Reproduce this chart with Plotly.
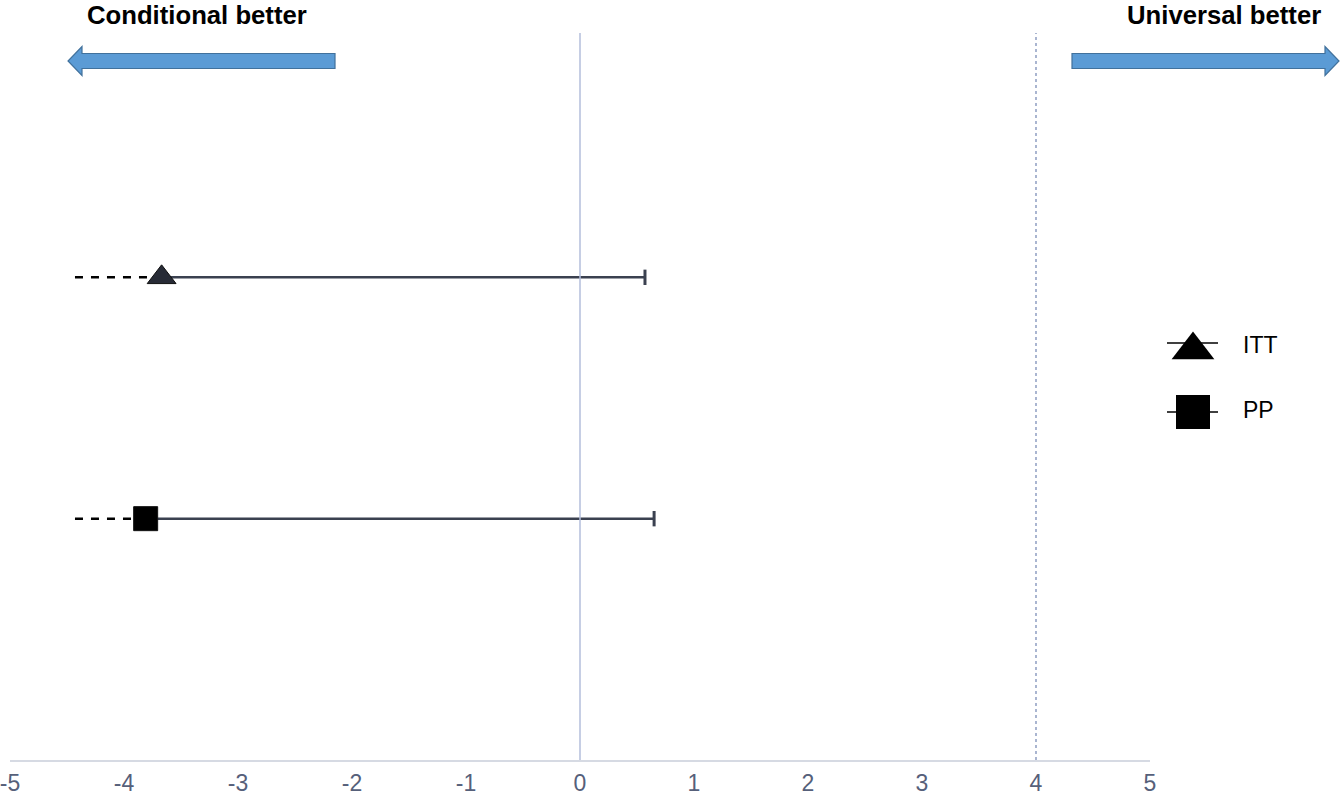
import plotly.graph_objects as go

# =============================================================================
# DATA
# =============================================================================

groups = ['ITT', 'PP']
estimates = [-3.67, -3.81]
upper_ci = [0.57, 0.65]
lower_ci = [-4.43, -4.43]      # dashed part, runs off to the left
y_pos = [2, 1]
markers = ['triangle-up', 'square']
marker_sizes = [25, 24]
legend_sizes = [37, 34]
marker_colors = ['#272b36', '#000000']

x_ticks = [-5, -4, -3, -2, -1, 0, 1, 2, 3, 4, 5]
x_ticktext = ['-5', '-4', '-3', '-2', '-1', '0', '1', '2', '3', '4', '5']
ref_lines = [0, 4]

# =============================================================================
# LAYOUT HELPERS (window pixels -> paper coords)
# =============================================================================

W, H = 1341, 800
L, R, T, B = 10, 1150, 36, 760        # plot area in window pixels
PW = W - L                             # plotting region width (margin r = 0)
PH = B - T


def px_x(p):
    return (p - L) / PW


def px_y(p):
    return (B - p) / PH


FONT = 'Liberation Sans, Arial, sans-serif'

fig = go.Figure()

for g, est, lo, hi, y, sym, sz, col in zip(groups, estimates, lower_ci, upper_ci,
                                           y_pos, markers, marker_sizes, marker_colors):
    # dashed lower part
    fig.add_trace(go.Scatter(
        x=[lo, est], y=[y, y], mode='lines',
        line=dict(color='black', width=2.5, dash='8px,8px'),
        showlegend=False, hoverinfo='skip'
    ))
    # solid upper part with cap
    fig.add_trace(go.Scatter(
        x=[est, hi], y=[y, y], mode='lines',
        line=dict(color='#3b4150', width=2.5),
        showlegend=False, hoverinfo='skip'
    ))
    fig.add_trace(go.Scatter(
        x=[hi], y=[y], mode='markers',
        marker=dict(symbol='line-ns', size=11, line=dict(color='#3b4150', width=3)),
        showlegend=False, hoverinfo='skip'
    ))
    fig.add_trace(go.Scatter(
        x=[est], y=[y], mode='markers',
        marker=dict(symbol=sym, size=sz, color=col,
                    line=dict(color='#111111', width=1)),
        showlegend=False, name=g
    ))

# hand-drawn legend on a second axis living in the right margin
legend_text_y = [347, 412]
legend_line_y = [343, 412]
legend_mark_y = [350, 412]
for g, sym, sz, ty, lny, my in zip(groups, markers, legend_sizes,
                                   legend_text_y, legend_line_y, legend_mark_y):
    fig.add_trace(go.Scatter(
        x=[1167, 1218], y=[lny, lny], mode='lines',
        line=dict(color='black', width=1.5),
        xaxis='x2', yaxis='y2', showlegend=False, hoverinfo='skip'
    ))
    fig.add_trace(go.Scatter(
        x=[1193], y=[my], mode='markers',
        marker=dict(symbol=sym, size=sz, color='black'),
        xaxis='x2', yaxis='y2', showlegend=False, hoverinfo='skip'
    ))
    fig.add_trace(go.Scatter(
        x=[1243], y=[ty], mode='text', text=[g], textposition='middle right',
        textfont=dict(family=FONT, size=23, color='black'),
        xaxis='x2', yaxis='y2', showlegend=False, hoverinfo='skip'
    ))

# reference lines
fig.add_shape(type='line', xref='x', yref='paper', x0=ref_lines[0], x1=ref_lines[0],
              y0=0, y1=px_y(33), line=dict(color='#b3bedb', width=1.5))
fig.add_shape(type='line', xref='x', yref='paper', x0=ref_lines[1], x1=ref_lines[1],
              y0=0, y1=px_y(33), line=dict(color='#7d8fb8', width=1.3, dash='dot'))


# direction arrows
def arrow_path(x_tail, x_tip, yc, body=7.5, head=14.5, head_len=14):
    d = 1 if x_tip > x_tail else -1
    xb = x_tip - d * head_len
    pts = [(x_tail, yc - body), (xb, yc - body), (xb, yc - head), (x_tip, yc),
           (xb, yc + head), (xb, yc + body), (x_tail, yc + body)]
    return 'M ' + ' L '.join(f'{px_x(a):.5f},{px_y(b):.5f}' for a, b in pts) + ' Z'


for tail, tip in [(335, 68), (1072, 1339)]:
    fig.add_shape(type='path', xref='paper', yref='paper',
                  path=arrow_path(tail, tip, 61),
                  fillcolor='#5b9bd5', line=dict(color='#41719c', width=1.2))

fig.add_annotation(text='<b>Conditional better</b>', xref='paper', yref='paper',
                   x=px_x(197), y=px_y(0), xanchor='center', yanchor='top',
                   borderpad=0, showarrow=False,
                   font=dict(family=FONT, size=25.7, color='black'))
fig.add_annotation(text='<b>Universal better</b>', xref='paper', yref='paper',
                   x=px_x(1224), y=px_y(0), xanchor='center', yanchor='top',
                   borderpad=0, showarrow=False,
                   font=dict(family=FONT, size=25.7, color='black'))

split = (R - L) / PW
fig.update_layout(
    width=W, height=H,
    margin=dict(l=L, r=0, t=T, b=H - B, autoexpand=False),
    plot_bgcolor='white', paper_bgcolor='white',
    font=dict(family=FONT, size=23, color='#56607a'),
    showlegend=False,
    xaxis=dict(domain=[0, split], range=[-5, 5], tickvals=x_ticks, ticktext=x_ticktext,
               showgrid=False, zeroline=False, showline=True, linecolor='#d6dae3',
               linewidth=1.5, ticks='', ticklabelstandoff=2, ticklabeloverflow='allow',
               automargin=False,
               tickfont=dict(family=FONT, size=23, color='#56607a'), fixedrange=True),
    yaxis=dict(range=[0, 3], showgrid=False, zeroline=False, showline=False,
               showticklabels=False, automargin=False, fixedrange=True),
    xaxis2=dict(domain=[split, 1], range=[R, W], visible=False, automargin=False,
                fixedrange=True),
    yaxis2=dict(anchor='x2', range=[B, T], visible=False, automargin=False,
                fixedrange=True),
)

# drop the default 8px body margin so the figure fills the window exactly
fig.write_html('out.html', config={'displayModeBar': False},
               post_script="document.body.style.margin='0';")
